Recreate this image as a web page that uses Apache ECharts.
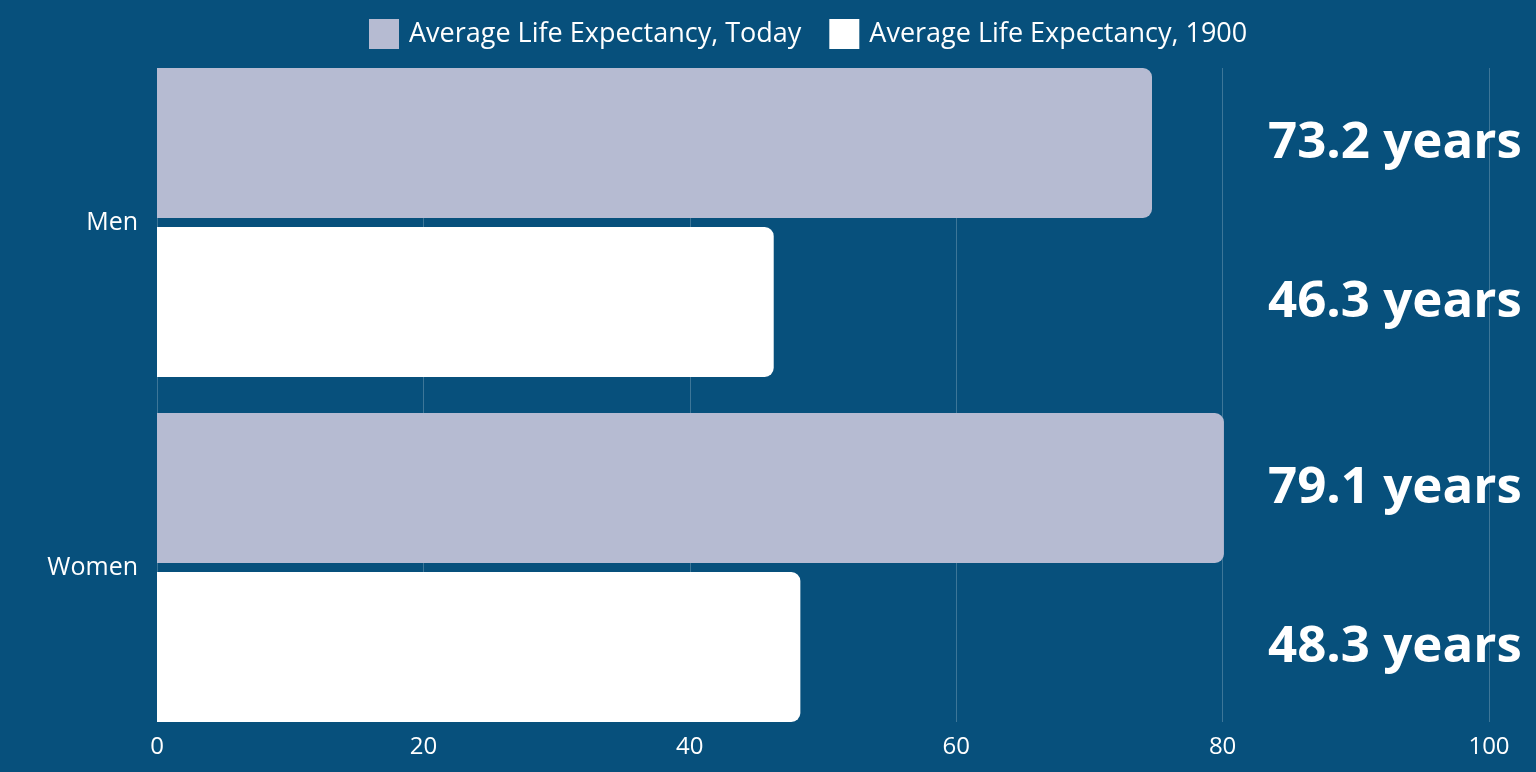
<!DOCTYPE html>
<html>
<head>
<meta charset="utf-8">
<script src="https://cdn.jsdelivr.net/npm/echarts@6/dist/echarts.min.js"></script>
<style>
html,body{margin:0;padding:0;background:#07507c;}
#c{width:1536px;height:772px;}
</style>
</head>
<body>
<div id="c"></div>
<script>
const categories = ['Men', 'Women'];
const seriesNames = ['Average Life Expectancy, Today', 'Average Life Expectancy, 1900'];
const todayValues = [74.7, 80.1];
const y1900Values = [46.3, 48.3];
const todayLabels = ['73.2 years', '79.1 years'];
const y1900Labels = ['46.3 years', '48.3 years'];
const xTicks = [0, 20, 40, 60, 80, 100];

const chart = echarts.init(document.getElementById('c'));
const FONT = 'Open Sans';
const labelCfg = (arr) => ({
  show: true,
  position: [1111, '50%'],
  verticalAlign: 'middle',
  align: 'left',
  color: '#ffffff',
  fontFamily: FONT,
  fontWeight: 700,
  fontSize: 51,
  formatter: (p) => arr[p.dataIndex]
});
chart.setOption({
  backgroundColor: '#07507c',
  animation: false,
  legend: {
    top: 14,
    left: 364,
    itemWidth: 30,
    itemHeight: 30,
    itemGap: 28,
    textStyle: { color: '#ffffff', fontFamily: FONT, fontSize: 27, padding: [0, 0, 0, 5] },
    icon: 'rect',
    data: seriesNames
  },
  grid: [
    { left: 157, right: 47, top: 50, bottom: 32 },
    { left: 157, right: 47, top: 68, bottom: 50 }
  ],
  xAxis: [
    { gridIndex: 0, type: 'value', min: 0, max: 100, interval: 20, show: false },
    { gridIndex: 1, type: 'value', min: xTicks[0], max: xTicks[xTicks.length - 1], interval: 20,
      axisLine: { show: false }, axisTick: { show: false },
      axisLabel: { color: '#ffffff', fontFamily: FONT, fontSize: 24, margin: 13 },
      splitLine: { show: true, lineStyle: { color: 'rgba(255,255,255,0.22)', width: 1 } } }
  ],
  yAxis: [
    { gridIndex: 0, type: 'category', data: categories, inverse: true,
      axisLine: { show: false }, axisTick: { show: false },
      axisLabel: { color: '#ffffff', fontFamily: FONT, fontSize: 25, margin: 19 } },
    { gridIndex: 1, type: 'category', data: categories, show: false }
  ],
  series: [
    { name: seriesNames[0], type: 'bar', xAxisIndex: 0, yAxisIndex: 0, data: todayValues,
      barWidth: 150, barGap: '6%',
      itemStyle: { color: '#b6bbd2', borderRadius: [0, 9, 9, 0] },
      label: labelCfg(todayLabels) },
    { name: seriesNames[1], type: 'bar', xAxisIndex: 0, yAxisIndex: 0, data: y1900Values,
      barWidth: 150, barGap: '6%',
      itemStyle: { color: '#ffffff', borderRadius: [0, 9, 9, 0] },
      label: labelCfg(y1900Labels) }
  ]
});
</script>
</body>
</html>
